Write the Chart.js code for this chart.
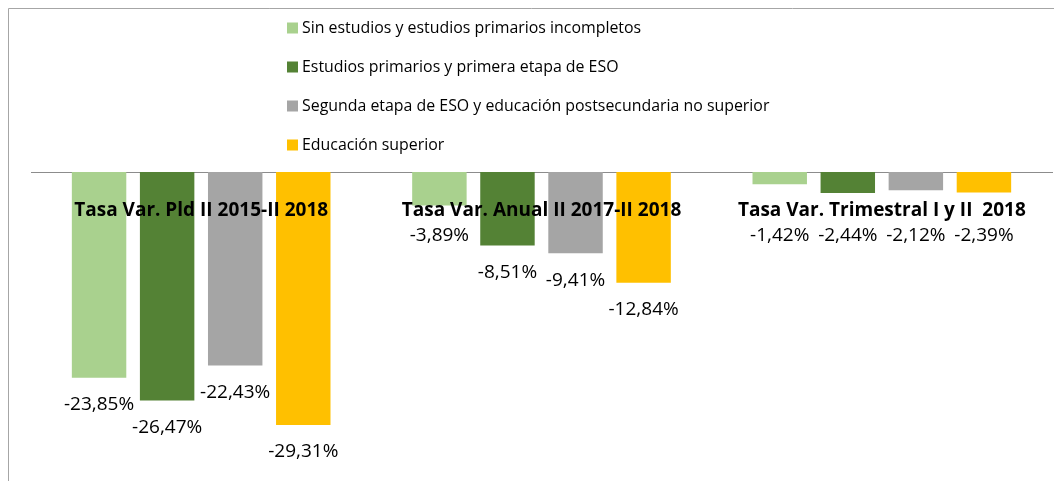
<!DOCTYPE html>
<html>
<head>
<meta charset="utf-8">
<script src="https://cdn.jsdelivr.net/npm/chart.js@4/dist/chart.umd.min.js"></script>
<style>
html,body{margin:0;padding:0;background:#fff}
#wrap{width:1054px;height:481px;position:relative}
</style>
</head>
<body>
<div id="wrap"><canvas id="myChart"></canvas></div>
<script>
var categorias = ["Tasa Var. Pld II 2015-II 2018", "Tasa Var. Anual II 2017-II 2018", "Tasa Var. Trimestral I y II  2018"]
var nombres = ["Sin estudios y estudios primarios incompletos", "Estudios primarios y primera etapa de ESO", "Segunda etapa de ESO y educación postsecundaria no superior", "Educación superior"]
var sinEstudios = [-23.85, -3.89, -1.42]
var primariaEso = [-26.47, -8.51, -2.44]
var segundaEso = [-22.43, -9.41, -2.12]
var superior = [-29.31, -12.84, -2.39]
var colores = ["#A9D18E", "#548235", "#A5A5A5", "#FFC000"]

function fmt(v){
    return v.toFixed(2).replace(".", ",") + "%"
}

var extras = {
    id: "extras",
    beforeDraw: function(chart){
        var ctx = chart.ctx
        ctx.save()
        ctx.strokeStyle = "#a6a6a6"
        ctx.lineWidth = 1
        ctx.beginPath()
        ctx.moveTo(8.5, chart.height)
        ctx.lineTo(8.5, 8.5)
        ctx.lineTo(chart.width, 8.5)
        ctx.stroke()
        ctx.restore()
    },
    afterDatasetsDraw: function(chart){
        var ctx = chart.ctx
        var xs = chart.scales.x, ys = chart.scales.y
        var y0 = ys.getPixelForValue(0)
        ctx.save()
        ctx.fillStyle = "#000"
        ctx.textAlign = "center"
        ctx.textBaseline = "middle"
        // etiquetas de valor
        ctx.font = "19px 'Open Sans'"
        chart.data.datasets.forEach(function(ds, di){
            chart.getDatasetMeta(di).data.forEach(function(bar, i){
                var ty = Math.max(bar.y + 27, y0 + 64)
                ctx.fillText(fmt(ds.data[i]), bar.x, ty)
            })
        })
        // categorias
        ctx.font = "bold 19px 'Open Sans'"
        categorias.forEach(function(c, i){
            ctx.fillText(c, xs.getPixelForValue(i), y0 + 39)
        })
        // leyenda
        ctx.textAlign = "left"
        ctx.font = "15.9px 'Open Sans'"
        chart.data.datasets.forEach(function(ds, di){
            var cy = 28 + di * 39
            ctx.fillStyle = ds.backgroundColor
            ctx.fillRect(287, cy - 5.5, 11, 11)
            ctx.fillStyle = "#000"
            ctx.fillText(ds.label, 302, cy)
        })
        ctx.restore()
    }
}

var datos = [sinEstudios, primariaEso, segundaEso, superior]
var myChart = document.getElementById("myChart").getContext("2d")
var chart = new Chart(myChart, {
    type: "bar",
    data: {
        labels: categorias,
        datasets: datos.map(function(d, i){
            return {
                label: nombres[i],
                data: d,
                backgroundColor: colores[i],
                borderWidth: 0,
                barPercentage: 0.8,
                categoryPercentage: 0.8
            }
        })
    },
    options: {
        responsive: true,
        maintainAspectRatio: false,
        animation: false,
        layout: {padding: {top: 164, left: 31, right: 2, bottom: 7}},
        plugins: {legend: {display: false}, tooltip: {enabled: false}},
        scales: {
            x: {
                position: "top",
                grid: {display: false},
                ticks: {display: false},
                border: {color: "#8c8c8c"}
            },
            y: {display: false, min: -35, max: 0}
        }
    },
    plugins: [extras]
})
</script>
</body>
</html>
